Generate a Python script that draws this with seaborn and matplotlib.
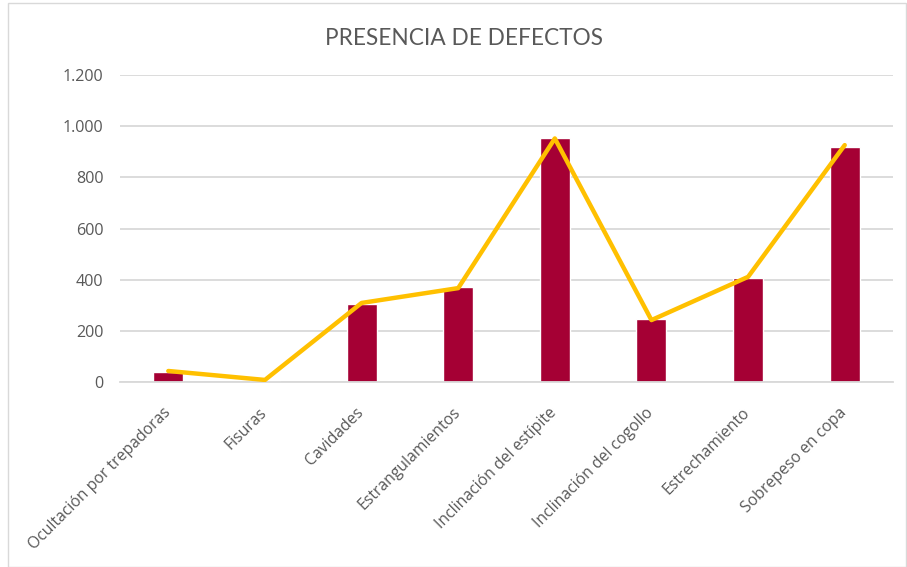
import matplotlib.pyplot as plt
import matplotlib.ticker as mticker
import matplotlib.transforms as mtransforms
import pandas as pd
import seaborn as sns
import numpy as np

sns.set_theme(style="white")
plt.rcParams['font.family'] = ['Open Sans', 'DejaVu Sans']

# data
categories = ['Ocultación por trepadoras', 'Fisuras', 'Cavidades', 'Estrangulamientos',
              'Inclinación del estípite', 'Inclinación del cogollo', 'Estrechamiento',
              'Sobrepeso en copa']
bar_values = [38, 4, 305, 371, 952, 246, 405, 919]
line_values = [43, 8, 309, 367, 952, 242, 411, 926]
y_ticks = [0, 200, 400, 600, 800, 1000, 1200]

df = pd.DataFrame({'defecto': categories, 'n': bar_values, 'tendencia': line_values})
df['pos'] = np.arange(len(df))

bar_color = '#A50034'
line_color = '#FFC000'
text_color = '#595959'
grid_color = '#D9D9D9'

fig = plt.figure(figsize=(9.07, 5.67), dpi=100)
ax = fig.add_axes([0.1323, 0.3263, 0.8523, 0.5414])

sns.barplot(data=df, x='defecto', y='n', color=bar_color, width=0.31,
            saturation=1, ax=ax, zorder=2)
sns.lineplot(data=df, x='pos', y='tendencia', color=line_color, linewidth=3.2,
             ax=ax, zorder=3)

ax.set_xlim(-0.5, len(categories) - 0.5)
ax.set_ylim(0, 1200)
ax.set_yticks(y_ticks)
ax.yaxis.set_major_formatter(mticker.FuncFormatter(lambda v, p: f'{int(v):,}'.replace(',', '.')))
ax.grid(axis='y', color=grid_color, linewidth=1.3, zorder=0)
ax.set_axisbelow(True)
for s in ['left', 'right', 'top']:
    ax.spines[s].set_visible(False)
ax.spines['bottom'].set_color(grid_color)
ax.spines['bottom'].set_linewidth(1.3)
ax.tick_params(axis='both', length=0, colors=text_color, labelsize=11.3)
ax.tick_params(axis='y', labelsize=11.6, pad=12)
ax.tick_params(axis='x', pad=12)
ax.set_xlabel('')
ax.set_ylabel('')
ax.set_xticks(range(len(categories)))
ax.set_xticklabels(categories, rotation=45, ha='right', rotation_mode='anchor', color=text_color)

# nudge rotated labels down-left a little
shift = mtransforms.ScaledTranslation(-6 / 100, -6 / 100, fig.dpi_scale_trans)
for lab in ax.get_xticklabels():
    lab.set_transform(lab.get_transform() + shift)

fig.text(0.5116, 0.932, 'PRESENCIA DE DEFECTOS', ha='center', va='center',
         fontsize=16.3, color=text_color, family=['Lato', 'DejaVu Sans'])

# light border around the chart area
fig.patches.append(plt.Rectangle((0.009, 0.0), 0.99, 0.995, transform=fig.transFigure,
                                 fill=False, edgecolor=grid_color, linewidth=1))

plt.savefig('out.png', dpi=100)
